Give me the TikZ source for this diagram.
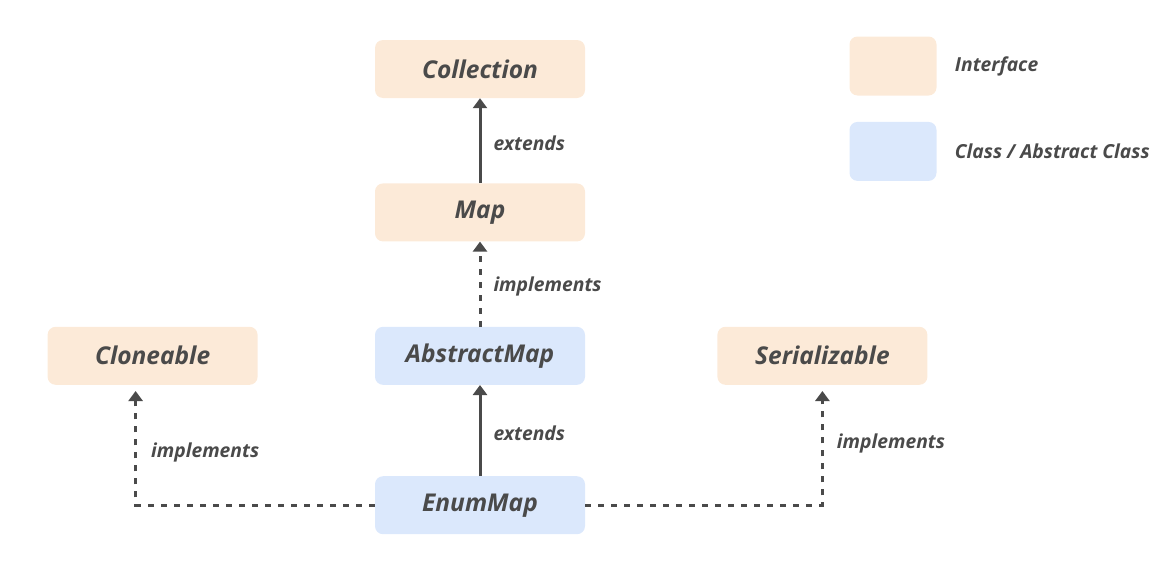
\documentclass[tikz,border=0pt]{standalone}
\usepackage{fontspec}
\setmainfont{Open Sans}
\usepackage{xcolor}
\usetikzlibrary{positioning,arrows.meta}

\definecolor{ifacefill}{HTML}{FCEAD8}
\definecolor{classfill}{HTML}{DBE8FC}
\definecolor{ink}{HTML}{4A4A4A}

\begin{document}
\begin{tikzpicture}[
  node distance=85pt and 117pt,
  iface/.style={fill=ifacefill, rounded corners=8pt, minimum width=210pt, minimum height=58pt, inner sep=0pt,
    text=ink, font=\fontsize{24.5}{28}\selectfont\bfseries\itshape},
  cls/.style={iface, fill=classfill},
  key/.style={rounded corners=8pt, minimum width=87pt, minimum height=59pt, inner sep=0pt},
  keytext/.style={right=18pt of #1, inner sep=0pt, text=ink, font=\fontsize{19.3}{23}\selectfont\bfseries\itshape},
  lbl/.style={anchor=west, inner sep=0pt, yshift=-2.5pt, text=ink, font=\fontsize{19.3}{23}\selectfont\bfseries\itshape},
  ext/.style={ink, line width=3pt, -{Triangle[length=10pt, width=14pt]}},
  impl/.style={ink, line width=3pt, dash pattern=on 6pt off 7pt, -{Triangle[length=10pt, width=14pt]}}]

  \useasboundingbox (0,0) rectangle (1162pt,-576pt);

  \node[iface] (coll) at (480pt,-69pt) {Collection};
  \node[iface, below=of coll] (map) {Map};
  \node[cls, below=of map] (absmap) {AbstractMap};
  \node[cls, below=91pt of absmap] (enummap) {EnumMap};
  \node[iface, left=of absmap] (clone) {Cloneable};
  \node[iface, right=132pt of absmap] (serial) {Serializable};

  % legend
  \node[key, fill=ifacefill] (ifacekey) at (893pt,-66pt) {};
  \node[key, fill=classfill, below=26pt of ifacekey] (classkey) {};
  \node[keytext=ifacekey] (ifacetext) {Interface};
  \node[keytext=classkey] (classtext) {Class / Abstract Class};

  \draw[ext] (map) -- (coll) node[midway, lbl, xshift=12pt] {extends};
  \draw[impl] (absmap) -- (map) node[midway, lbl, xshift=12pt] {implements};
  \draw[ext] (enummap) -- (absmap) node[midway, lbl, xshift=12pt] {extends};
  \draw[impl, shorten >=6pt] (enummap.west) -| ([xshift=-17pt]clone.south) node[pos=0.73, lbl, xshift=14pt] {implements};
  \draw[impl, shorten >=6pt] (enummap.east) -| (serial.south) node[pos=0.767, lbl, xshift=13pt] {implements};
\end{tikzpicture}
\end{document}
